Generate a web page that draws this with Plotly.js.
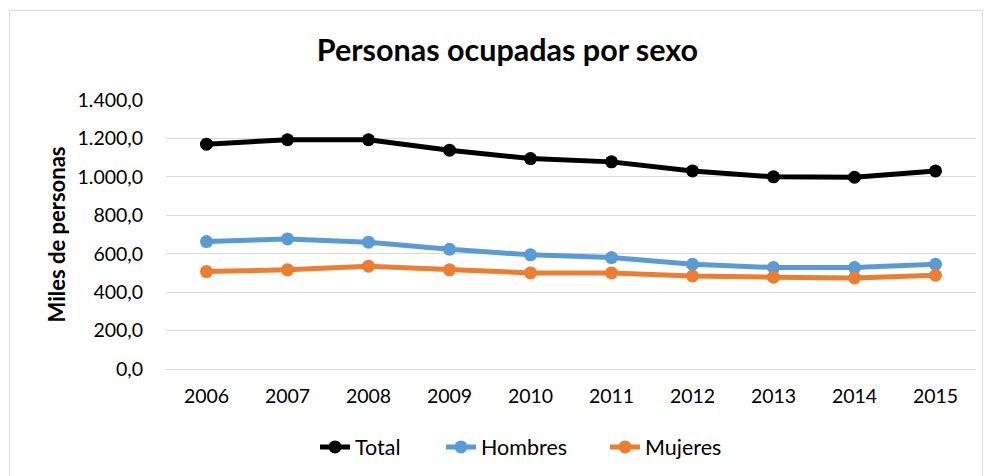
<!DOCTYPE html>
<html><head><meta charset="utf-8">
<script src="https://cdn.plot.ly/plotly-3.0.1.min.js"></script>
<style>html,body{margin:0;padding:0;background:#fff;}#wrap{position:relative;width:991px;height:476px;}
#frame{position:absolute;left:9px;top:10px;width:972px;height:470px;border:1px solid #d9d9d9;pointer-events:none;}
#chart{width:991px;height:476px;}</style>
</head><body><div id="wrap"><div id="chart"></div><div id="frame"></div></div>
<script>
const years = ['2006','2007','2008','2009','2010','2011','2012','2013','2014','2015'];
const total = [1170, 1193, 1193, 1139, 1095, 1078, 1031, 1000, 998, 1031];
const hombres = [663, 677, 660, 623, 594, 580, 545, 528, 528, 545];
const mujeres = [507, 516, 535, 516, 500, 500, 484, 478, 474, 488];
const yTicks = [0, 200, 400, 600, 800, 1000, 1200, 1400];

const font = 'Lato, Carlito, Calibri, "Open Sans", sans-serif';
function tr(name, y, color, leg){
  return {x: years, y: y, name: name, type: 'scatter', mode: 'lines+markers', legend: leg,
    line: {color: color, width: 5}, marker: {color: color, size: 13}};
}
const data = [tr('Total', total, '#000000', 'legend'), tr('Hombres', hombres, '#5B9BD5', 'legend2'), tr('Mujeres', mujeres, '#ED7D31', 'legend3')];
function leg(x){
  return {orientation: 'h', xref: 'container', yref: 'container', x: x, xanchor: 'left', y: 0.061, yanchor: 'middle',
    font: {family: font, size: 21.5}, itemwidth: 30, bgcolor: 'rgba(0,0,0,0)'};
}
const layout = {
  width: 991, height: 476,
  margin: {l: 165.5, r: 14.5, t: 100, b: 107},
  paper_bgcolor: '#ffffff', plot_bgcolor: '#ffffff',
  separators: ',.',
  font: {family: font, size: 19, color: '#000'},
  title: {text: '<b>Personas ocupadas por sexo</b>', x: 0.512, xanchor: 'center', y: 0.895, yanchor: 'middle',
    font: {family: font, size: 30.5, color: '#000'}},
  xaxis: {type: 'category', range: [-0.5, 9.5], showgrid: false, zeroline: false,
    showline: true, linecolor: '#d9d9d9', linewidth: 1,
    ticks: 'outside', ticklen: 10, tickcolor: 'rgba(0,0,0,0)', tickfont: {family: font, size: 19.5}},
  yaxis: {range: [0, 1400], tickvals: yTicks, tickformat: ',.1f', showgrid: true, gridcolor: '#d9d9d9', gridwidth: 1,
    zeroline: false, showline: false, ticks: 'outside', ticklen: 18, tickcolor: 'rgba(0,0,0,0)',
    tickfont: {family: font, size: 19.5},
    title: {text: '<b>Miles de personas</b>', font: {family: font, size: 22}, standoff: 5}},
  showlegend: true,
  legend: leg(0.3179), legend2: leg(0.445), legend3: leg(0.6105),
  hovermode: false
};
Plotly.newPlot('chart', data, layout, {displayModeBar: false, staticPlot: true});
</script></body></html>
